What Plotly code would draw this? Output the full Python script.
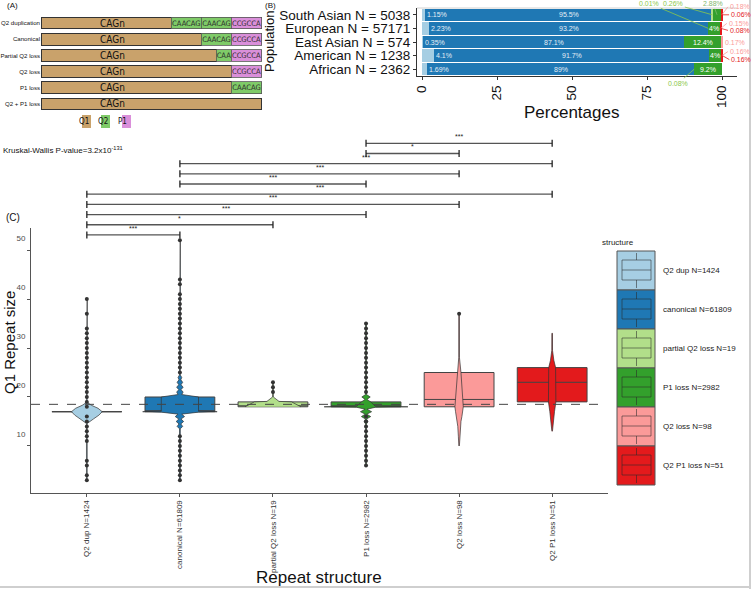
import plotly.graph_objects as go

W, H = 752, 589


def px(x):
    return x / W


def py(y):
    return 1 - y / H


FONT = "Liberation Sans, Arial, sans-serif"
NARROW = "Liberation Sans Narrow, DejaVu Sans Condensed, Liberation Sans, sans-serif"

PAIRED = ['#a6cee3', '#1f78b4', '#b2df8a', '#33a02c', '#fb9a99', '#e31a1c']
TAN, Q2_GREEN, P1_PINK = '#c9a26b', '#7fcb68', '#da8fda'

# ---------------- panel A: repeat layouts ----------------
a_rows = ["Q2 duplication", "Canonical", "Partial Q2 loss", "Q2 loss", "P1 loss", "Q2 + P1 loss"]
a_cag_len = [130, 160, 175, 190, 190, 220]
a_motifs = [["CAACAG", "CAACAG", "CCGCCA"], ["CAACAG", "CCGCCA"], ["CAA", "CCGCCA"],
            ["CCGCCA"], ["CAACAG"], []]
motif_len = {"CAACAG": 30, "CAA": 15, "CCGCCA": 30}
motif_col = {"CAACAG": Q2_GREEN, "CAA": Q2_GREEN, "CCGCCA": P1_PINK}

# ---------------- panel B: population percentages ----------------
b_pops = ["South Asian N = 5038", "European N = 57171", "East Asian N = 574",
          "American N = 1238", "African N = 2362"]
b_q2dup = [1.15, 2.23, 0.35, 4.1, 1.69]
b_canonical = [95.5, 93.2, 87.1, 91.7, 89]
b_partial = [0.26, 0.01, 0, 0, 0.08]
b_p1loss = [2.88, 4, 12.4, 4, 9.2]
b_q2loss = [0.18, 0.15, 0.17, 0.16, 0]
b_q2p1loss = [0.06, 0.08, 0, 0.16, 0]

# ---------------- panel C: Q1 repeat size by structure ----------------
c_labels = ["Q2 dup N=1424", "canonical N=61809", "partial Q2 loss N=19",
            "P1 loss N=2982", "Q2 loss N=98", "Q2 P1 loss N=51"]
c_q1 = [17, 17, 18, 18, 18, 19]
c_median = [17, 17, 18, 18, 19.5, 23]
c_q3 = [17, 20, 19, 19, 25, 26]
c_outliers = [
    [3, 4, 6, 7, 11, 12, 13, 14, 15, 16] + list(range(18, 35)) + [37, 40],
    [3, 4, 5, 6, 7, 8, 9, 10, 11, 12] + list(range(25, 42)) + [43, 44, 52],
    [21, 22, 23],
    list(range(6, 17)) + list(range(21, 36)),
    [37],
    [],
]
c_violin_y = [
    [3, 14.6, 15.5, 16.3, 17, 17.7, 18.3, 18.8, 19.5, 40],
    [3, 13.5, 14, 14.5, 15, 15.5, 16, 16.5, 16.9, 17, 17.1, 20, 20.5, 21, 21.5, 22, 22.5, 23, 23.5, 24, 24.5, 52],
    [18, 19, 19.1, 20, 23],
    [6, 14.5, 15, 15.5, 16, 16.5, 17, 17.5, 17.9, 18, 18.1, 19, 19.5, 20, 20.5, 21, 35],
    [10, 12, 14, 15, 16, 17, 18, 25, 26, 27, 28, 37],
    [13, 15, 17, 19, 26, 27.5, 29.5, 33],
]
c_violin_w = [
    [0.004, 0.004, 0.07, 0.13, 0.165, 0.12, 0.05, 0.01, 0.004, 0.004],
    [0.004, 0.004, 0.03, 0.01, 0.04, 0.012, 0.05, 0.02, 0.2, 0.4, 0.2, 0.2, 0.02, 0.035, 0.012, 0.035, 0.012, 0.03, 0.01, 0.02, 0.004, 0.004],
    [0.3, 0.2, 0.065, 0.004, 0.004],
    [0.004, 0.004, 0.02, 0.005, 0.05, 0.008, 0.06, 0.01, 0.1, 0.45, 0.1, 0.05, 0.01, 0.045, 0.005, 0.004, 0.004],
    [0.003, 0.008, 0.014, 0.02, 0.03, 0.038, 0.045, 0.02, 0.015, 0.008, 0.004, 0.004],
    [0.003, 0.012, 0.025, 0.04, 0.037, 0.018, 0.004, 0.003],
]
c_ref_line = 18.5
c_pairs = [(3, 5, "***"), (3, 4, "*"), (1, 5, "***"), (1, 4, "***"), (1, 3, "***"),
           (0, 5, "***"), (0, 4, "***"), (0, 3, "***"), (0, 2, "*"), (0, 1, "***")]

fig = go.Figure()
shapes, annotations = [], []

# ---- panel A bars
fig.add_trace(go.Bar(y=a_rows, x=a_cag_len, orientation='h', width=0.72,
                     marker=dict(color=TAN, line=dict(color='#333333', width=1)),
                     xaxis='x', yaxis='y', showlegend=False, hoverinfo='skip'))
for k in range(3):
    xs, cols, txt = [], [], []
    for m in a_motifs:
        if k < len(m):
            xs.append(motif_len[m[k]]); cols.append(motif_col[m[k]]); txt.append(m[k])
        else:
            xs.append(None); cols.append(TAN); txt.append("")
    fig.add_trace(go.Bar(y=a_rows, x=xs, orientation='h', width=0.72, text=txt,
                         textposition='inside', insidetextanchor='middle', textangle=0,
                         constraintext='none',
                         textfont=dict(family=NARROW, size=7.5, color='#2a2a2a'),
                         marker=dict(color=cols, line=dict(color='#555555', width=0.8)),
                         xaxis='x', yaxis='y', showlegend=False, hoverinfo='skip'))
for r in a_rows:
    annotations.append(dict(text="CAGn", x=71, y=r, xref='x', yref='y', showarrow=False,
                            font=dict(family=NARROW, size=10, color='#111')))
for lab, tx, sx, col in [("Q1", 77, 82, TAN), ("Q2", 96, 101, Q2_GREEN), ("P1", 116, 122, P1_PINK)]:
    annotations.append(dict(text=lab, x=px(tx), y=py(122), xref='paper', yref='paper',
                            yanchor='middle', showarrow=False,
                            font=dict(family=NARROW, size=8, color='#111')))
    shapes.append(dict(type='rect', xref='paper', yref='paper', x0=px(sx), x1=px(sx + 9),
                       y0=py(128), y1=py(115), fillcolor=col, line=dict(width=0)))

# ---- panel B bars
b_series = [b_q2dup, b_canonical, b_partial, b_p1loss, b_q2loss, b_q2p1loss]
for vals, col in zip(b_series, PAIRED):
    fig.add_trace(go.Bar(y=b_pops, x=vals, orientation='h', width=0.9,
                         marker=dict(color=col, line=dict(width=0)),
                         xaxis='x2', yaxis='y2', showlegend=False, hoverinfo='skip'))

cum = []
for j in range(len(b_pops)):
    s, row = 0, []
    for vals in b_series:
        row.append((s, s + vals[j]))
        s += vals[j]
    cum.append(row)

LS = 7
lab_font = dict(size=LS, color='#e6eef5')
for j, pop in enumerate(b_pops):
    annotations.append(dict(text=f"{b_q2dup[j]:g}%", x=cum[j][0][1], y=pop, xref='x2', yref='y2',
                            xanchor='left', showarrow=False, font=lab_font))
    a0, a1 = cum[j][1]
    annotations.append(dict(text=f"{b_canonical[j]:g}%", x=(a0 + a1) / 2, y=pop, xref='x2', yref='y2',
                            showarrow=False, font=lab_font))
    if b_p1loss[j] >= 4:
        a0, a1 = cum[j][3]
        annotations.append(dict(text=f"{b_p1loss[j]:g}%", x=(a0 + a1) / 2, y=pop, xref='x2', yref='y2',
                                showarrow=False, font=dict(size=LS, color='white')))

# repelled labels: (series index, population index, ax, ay, colour)
repel = [(4, 0, 6, -8, '#fb9a99'), (5, 0, 7, 0, '#e31a1c'),
         (4, 1, 6, -5, '#fb9a99'), (5, 1, 7, 2, '#e31a1c'),
         (4, 3, 6, -4, '#fb9a99'), (5, 3, 7, 4, '#e31a1c'),
         (2, 1, -59, -25, '#8cc84b'), (2, 0, -39, -11, '#8cc84b'),
         (3, 0, -4, -11, '#7fb86e'), (2, 4, -16, 14, '#8cc84b')]
for si, pj, ax, ay, col in repel:
    a0, a1 = cum[pj][si]
    xtip = a1 if si >= 4 else (a0 + a1) / 2
    annotations.append(dict(text=f"{b_series[si][pj]:g}%", x=xtip, y=b_pops[pj], xref='x2', yref='y2',
                            ax=ax, ay=ay, showarrow=True, arrowhead=0, arrowwidth=0.8,
                            arrowcolor=col, standoff=0,
                            xanchor='left' if si >= 4 else 'center',
                            font=dict(size=LS, color=col)))
annotations.append(dict(text=f"{b_q2loss[2]:g}%", x=cum[2][4][1], y=b_pops[2], xref='x2', yref='y2',
                        xanchor='left', xshift=1, showarrow=False, font=dict(size=LS, color='#fb9a99')))

# ---- panel C: violins, boxes, points
for i in range(6):
    vy, vw = c_violin_y[i], c_violin_w[i]
    xs = [i + w for w in vw] + [i - w for w in reversed(vw)]
    ys = list(vy) + list(reversed(vy))
    fig.add_trace(go.Scatter(x=xs, y=ys, mode='lines', fill='toself', fillcolor=PAIRED[i],
                             line=dict(color='#333333', width=0.7), xaxis='x3', yaxis='y3',
                             showlegend=False, hoverinfo='skip'))
for i in range(6):
    fig.add_trace(go.Box(x=[i], q1=[c_q1[i]], median=[c_median[i]], q3=[c_q3[i]],
                         lowerfence=[c_q1[i]], upperfence=[c_q3[i]], width=0.75,
                         whiskerwidth=0, fillcolor=PAIRED[i], boxpoints=False,
                         line=dict(color='#444444', width=1), xaxis='x3', yaxis='y3',
                         showlegend=False, hoverinfo='skip'))
for i in range(6):
    if c_outliers[i]:
        fig.add_trace(go.Scatter(x=[i] * len(c_outliers[i]), y=c_outliers[i], mode='markers',
                                 marker=dict(size=4, color='#333333'), xaxis='x3', yaxis='y3',
                                 showlegend=False, hoverinfo='skip'))

shapes.append(dict(type='line', xref='x3', yref='y3', x0=-0.6, x1=5.55, y0=c_ref_line, y1=c_ref_line,
                   line=dict(color='#444444', width=1, dash='dash')))

for r, (i, j, lab) in enumerate(c_pairs):
    yy = 143.3 + r * 10.18
    shapes.append(dict(type='line', xref='x3', yref='paper', x0=i, x1=j, y0=py(yy), y1=py(yy),
                       line=dict(color='#555555', width=1.3)))
    for e in (i, j):
        shapes.append(dict(type='line', xref='x3', yref='paper', x0=e, x1=e, y0=py(yy - 3.5),
                           y1=py(yy + 3.5), line=dict(color='#222222', width=1.3)))
    annotations.append(dict(text=lab, x=(i + j) / 2, y=py(yy - 1), xref='x3', yref='paper',
                            yanchor='bottom', showarrow=False, font=dict(size=7, color='#222')))

# legend of panel C
annotations.append(dict(text="structure", x=px(636), y=py(242), xref='paper', yref='paper',
                        yanchor='middle', showarrow=False, font=dict(size=8, color='#222')))
for k, (lab, col) in enumerate(zip(c_labels, PAIRED)):
    top = 251 + k * 39
    shapes.append(dict(type='rect', xref='paper', yref='paper', x0=px(617), x1=px(655),
                       y0=py(top + 39), y1=py(top), fillcolor=col, line=dict(color='#555', width=1)))
    ic = 'rgba(40,40,40,0.55)'
    shapes.append(dict(type='rect', xref='paper', yref='paper', x0=px(622), x1=px(651),
                       y0=py(top + 29), y1=py(top + 9), line=dict(color=ic, width=1)))
    shapes.append(dict(type='line', xref='paper', yref='paper', x0=px(622), x1=px(651),
                       y0=py(top + 19), y1=py(top + 19), line=dict(color=ic, width=1)))
    for a, b in [(top + 2, top + 9), (top + 29, top + 37)]:
        shapes.append(dict(type='line', xref='paper', yref='paper', x0=px(636.5), x1=px(636.5),
                           y0=py(b), y1=py(a), line=dict(color=ic, width=1)))
    annotations.append(dict(text=lab, x=px(661), y=py(top + 19.5), xref='paper', yref='paper',
                            xanchor='left', yanchor='middle', showarrow=False,
                            font=dict(size=8, color='#222')))

# titles and labels
txts = [
    ("(A)", 5, 6, 8, 'left', 0), ("(B)", 263, 6, 8, 'left', 0), ("(C)", 4, 218, 10, 'left', 0),
    ("Percentages", 571, 112, 17, 'center', 0), ("Population", 269, 42, 13, 'center', -90),
    ("Repeat structure", 319, 577, 17, 'center', 0), ("Q1 Repeat size", 9, 343, 15, 'center', -90),
    ("Kruskal-Wallis P-value=3.2x10<sup>-131</sup>", 1, 150, 8, 'left', 0),
]
for t, x, y, s, anc, ang in txts:
    annotations.append(dict(text=t, x=px(x), y=py(y), xref='paper', yref='paper', xanchor=anc,
                            yanchor='middle', showarrow=False, textangle=ang,
                            font=dict(size=s, color='#111')))

# page borders
shapes.append(dict(type='line', xref='paper', yref='paper', x0=px(750), x1=px(750), y0=0, y1=1,
                   line=dict(color='#cfcfcf', width=2)))
shapes.append(dict(type='line', xref='paper', yref='paper', x0=0, x1=px(750), y0=py(587), y1=py(587),
                   line=dict(color='#cfcfcf', width=2)))
shapes.append(dict(type='line', xref='paper', yref='paper', x0=px(417), x1=px(737), y0=py(8), y1=py(8),
                   line=dict(color='#d0d0d0', width=1)))

axis_common = dict(showgrid=False, zeroline=False, automargin=False)
fig.update_layout(
    width=W, height=H, margin=dict(l=0, r=0, t=0, b=0, autoexpand=False),
    paper_bgcolor='white', plot_bgcolor='white', barmode='stack',
    font=dict(family=FONT, color='#111'),
    xaxis=dict(domain=[px(41), px(262)], range=[0, 220.5], visible=False, **axis_common),
    yaxis=dict(domain=[py(112), py(15)], autorange='reversed', type='category', ticks='',
               showline=False, ticklabelstandoff=0, tickmode='array', tickvals=a_rows,
               tickfont=dict(size=6.1, color='#111'), **axis_common),
    xaxis2=dict(domain=[px(417), px(737)], range=[-1.67, 105], anchor='y2',
                tickvals=[0, 25, 50, 75, 100], tickangle=-90, ticks='outside', ticklen=3,
                showline=True, linecolor='#333', linewidth=1, tickcolor='#333',
                tickfont=dict(size=13.5, color='#111'), **axis_common),
    yaxis2=dict(domain=[py(76), py(8)], anchor='x2', type='category', autorange='reversed',
                tickmode='array', tickvals=b_pops,
                ticks='outside', ticklen=3, showline=True, linecolor='#333', linewidth=1,
                tickcolor='#333', tickfont=dict(size=13.5, color='#111'), **axis_common),
    xaxis3=dict(domain=[px(31), px(608)], range=[-0.6, 5.6], anchor='y3', type='linear',
                tickvals=list(range(6)), ticktext=c_labels, tickangle=-90, ticks='outside',
                ticklen=3, showline=True, linecolor='#555', linewidth=1, tickcolor='#555',
                tickfont=dict(size=8, color='#333'), **axis_common),
    yaxis3=dict(domain=[py(493), py(228)], range=[0.4, 54.5], anchor='x3',
                tickvals=[10, 20, 30, 40, 50], ticks='outside', ticklen=3, ticklabelshift=-12,
                showline=True, linecolor='#555', linewidth=1, tickcolor='#555',
                tickfont=dict(size=8, color='#4d4d4d'), **axis_common),
    shapes=shapes, annotations=annotations,
)

fig.write_html("out.html", config={'displayModeBar': False},
               post_script="document.body.style.margin='0';")
